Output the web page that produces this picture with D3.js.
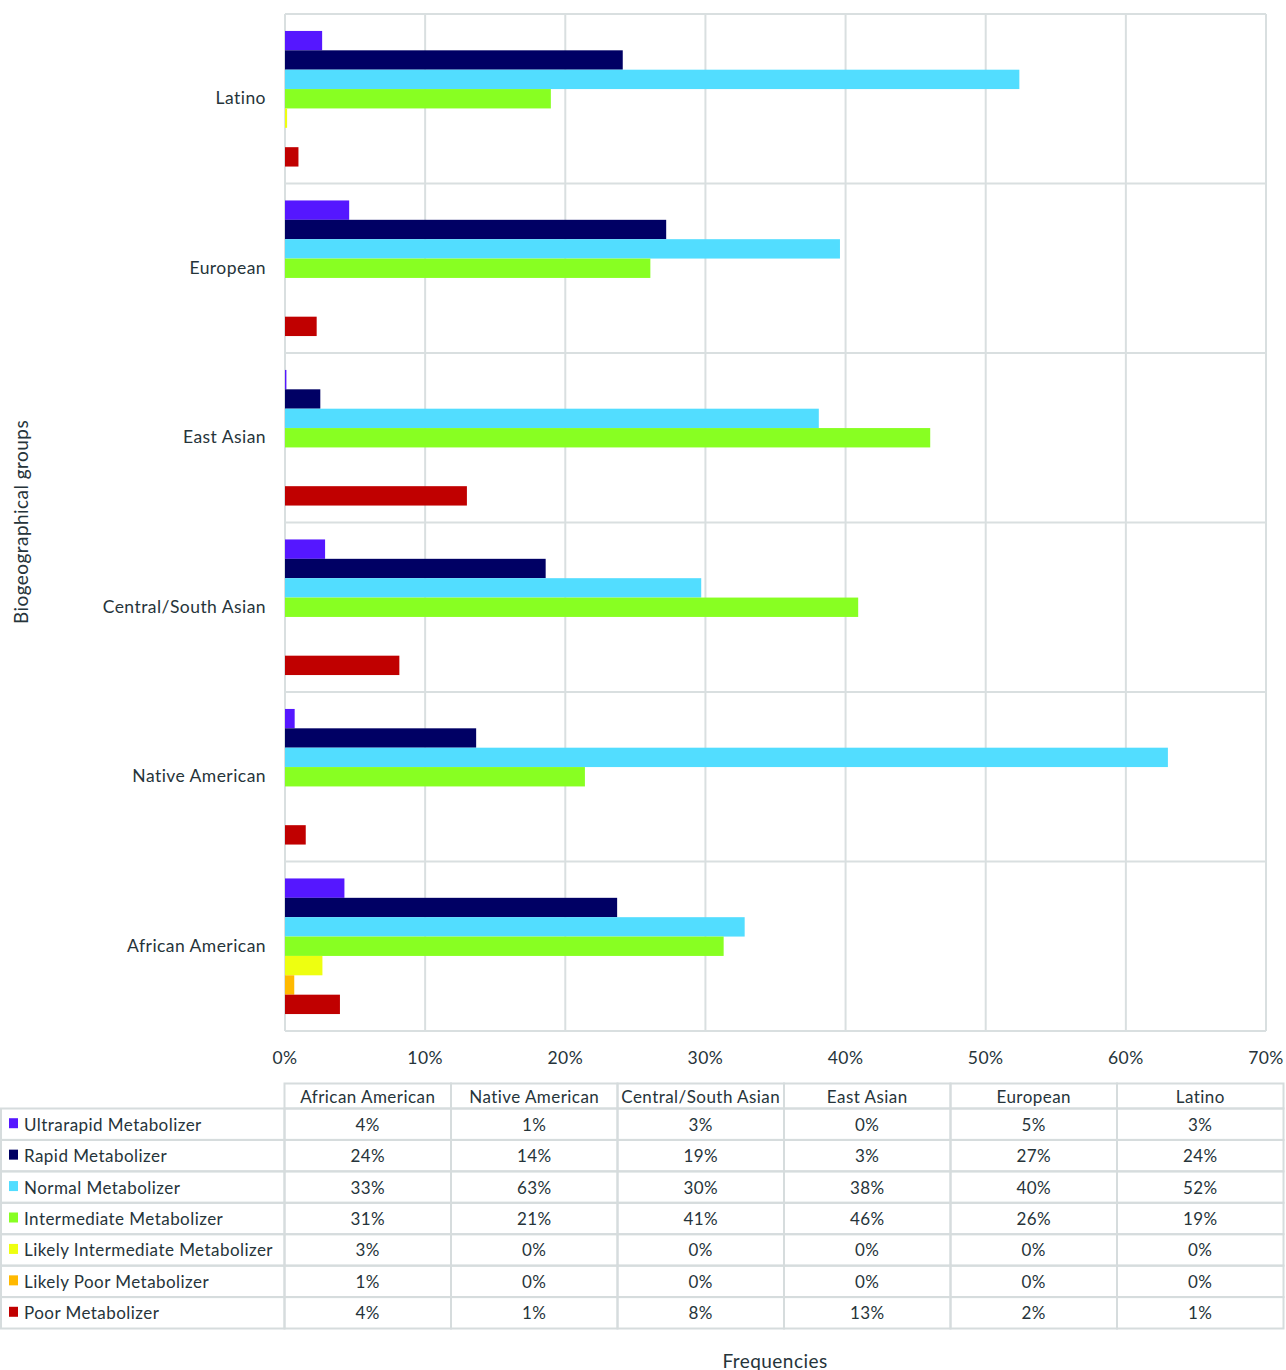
<!DOCTYPE html>
<html><head><meta charset="utf-8">
<script src="https://cdn.jsdelivr.net/npm/d3@7"></script>
<style>
body{margin:0;background:#fff}
text{font-family:Lato,"Open Sans",sans-serif;fill:#26343a;letter-spacing:0.45px}
</style>
</head><body>
<svg id="chart" width="1286" height="1370"></svg>
<script>
// ---- data ----
const groups = ["African American","Native American","Central/South Asian","East Asian","European","Latino"];
const seriesNames = ["Ultrarapid Metabolizer","Rapid Metabolizer","Normal Metabolizer","Intermediate Metabolizer","Likely Intermediate Metabolizer","Likely Poor Metabolizer","Poor Metabolizer"];
const seriesColors = ["#5517ff","#000064","#52ddff","#88ff22","#eeff10","#ffb900","#c00000"];
const ultrarapid         = [4.24, 0.69, 2.86, 0.1, 4.58, 2.65];
const rapid              = [23.7, 13.64, 18.6, 2.52, 27.2, 24.1];
const normal             = [32.8, 63.0, 29.7, 38.09, 39.6, 52.4];
const intermediate       = [31.3, 21.4, 40.9, 46.04, 26.07, 18.97];
const likelyIntermediate = [2.67, 0, 0, 0, 0, 0.15];
const likelyPoor         = [0.66, 0, 0, 0, 0, 0];
const poor               = [3.92, 1.48, 8.16, 12.98, 2.26, 0.96];
const xTicks = [0,10,20,30,40,50,60,70];
const yTitle = "Biogeographical groups";
const xTitle = "Frequencies";

const seriesValues = [ultrarapid, rapid, normal, intermediate, likelyIntermediate, likelyPoor, poor];

// ---- layout ----
const svg = d3.select("#chart");
const plot = {left:285, right:1266, top:14, bottom:1031};
const gridColor = "#d9dfe0";

const x = d3.scaleLinear().domain([0,70]).range([plot.left, plot.right]);
// top-to-bottom: Latino ... African American
const y = d3.scaleBand().domain(groups.slice().reverse()).range([plot.top, plot.bottom]).padding(0);
const inner = d3.scaleBand().domain(seriesNames).range([y.bandwidth()*0.1, y.bandwidth()*0.9]).padding(0);

// grid: vertical
svg.append("g").selectAll("line").data(xTicks).join("line")
  .attr("x1", d=>x(d)).attr("x2", d=>x(d))
  .attr("y1", plot.top).attr("y2", plot.bottom)
  .attr("stroke", gridColor).attr("stroke-width", 2);
// grid: horizontal band boundaries
const bounds = y.domain().map(g=>y(g)).concat([plot.bottom]);
svg.append("g").selectAll("line").data(bounds).join("line")
  .attr("x1", plot.left).attr("x2", plot.right)
  .attr("y1", d=>d).attr("y2", d=>d)
  .attr("stroke", gridColor).attr("stroke-width", 2);

// bars
const barG = svg.append("g");
groups.forEach((g, gi) => {
  seriesNames.forEach((s, si) => {
    const v = seriesValues[si][gi];
    barG.append("rect")
      .attr("x", x(0))
      .attr("y", y(g) + inner(s))
      .attr("width", Math.max(0, x(v) - x(0)))
      .attr("height", inner.bandwidth())
      .attr("fill", seriesColors[si]);
  });
});

// category labels
svg.append("g").selectAll("text").data(groups).join("text")
  .attr("x", 266).attr("y", d=>y(d)+y.bandwidth()/2 - 1)
  .attr("text-anchor","end").attr("dominant-baseline","central")
  .style("font-size","17.5px").text(d=>d);

// x tick labels
const fmtTick = d=>d3.format(".0%")(d/100);
svg.append("g").selectAll("text").data(xTicks).join("text")
  .attr("x", d=>x(d)).attr("y", 1057)
  .attr("text-anchor","middle").attr("dominant-baseline","central")
  .style("font-size","17.5px").text(fmtTick);

// y title
svg.append("text")
  .attr("transform","translate(20,522) rotate(-90)")
  .attr("text-anchor","middle").attr("dominant-baseline","central")
  .style("font-size","19px").text(yTitle);

// x title
svg.append("text")
  .attr("x", 775).attr("y", 1360)
  .attr("text-anchor","middle").attr("dominant-baseline","central")
  .style("font-size","19px").text(xTitle);

// ---- data table ----
const tbl = {left:1, labelRight:284.5, right:1283.5, headTop:1083.5, headBottom:1108.5, bottom:1328.5};
const colX = d3.scaleBand().domain(groups).range([tbl.labelRight, tbl.right]).padding(0);
const rowY = d3.scaleBand().domain(seriesNames).range([tbl.headBottom, tbl.bottom]).padding(0);
const tg = svg.append("g");
const tblStroke = "#d6dcdd";
// header cells
groups.forEach(g=>{
  tg.append("rect").attr("x", colX(g)).attr("y", tbl.headTop)
    .attr("width", colX.bandwidth()).attr("height", tbl.headBottom - tbl.headTop)
    .attr("fill","none").attr("stroke", tblStroke).attr("stroke-width",2);
  tg.append("text").attr("x", colX(g)+colX.bandwidth()/2).attr("y", (tbl.headTop+tbl.headBottom)/2)
    .attr("text-anchor","middle").attr("dominant-baseline","central")
    .style("font-size","17px").text(g);
});
// body
seriesNames.forEach((s, si)=>{
  const ry = rowY(s), rh = rowY.bandwidth();
  tg.append("rect").attr("x", tbl.left).attr("y", ry)
    .attr("width", tbl.labelRight - tbl.left).attr("height", rh)
    .attr("fill","none").attr("stroke", tblStroke).attr("stroke-width",2);
  tg.append("rect").attr("x", 9).attr("y", ry + rh/2 - 6)
    .attr("width", 9).attr("height", 10).attr("fill", seriesColors[si]);
  tg.append("text").attr("x", 24).attr("y", ry + rh/2)
    .attr("dominant-baseline","central").style("font-size","17px").text(s);
  groups.forEach((g, gi)=>{
    tg.append("rect").attr("x", colX(g)).attr("y", ry)
      .attr("width", colX.bandwidth()).attr("height", rh)
      .attr("fill","none").attr("stroke", tblStroke).attr("stroke-width",2);
    tg.append("text").attr("x", colX(g)+colX.bandwidth()/2).attr("y", ry + rh/2)
      .attr("text-anchor","middle").attr("dominant-baseline","central")
      .style("font-size","17px").text(fmtTick(Math.round(seriesValues[si][gi])));
  });
});
</script>
</body></html>
